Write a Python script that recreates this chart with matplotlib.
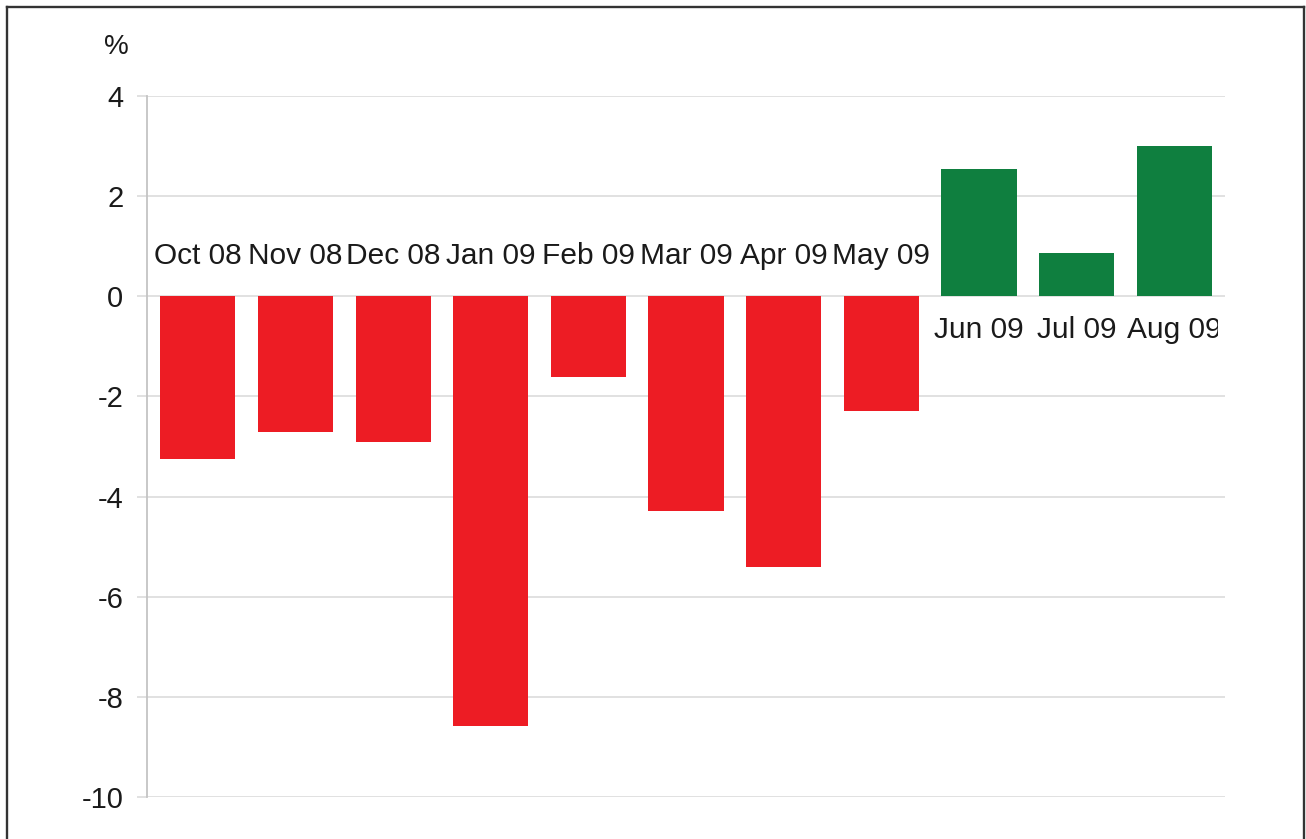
import matplotlib
matplotlib.use("Agg")
import matplotlib.pyplot as plt
from matplotlib.lines import Line2D
from matplotlib.patches import Rectangle

# ── Data ──
months = ["Oct 08", "Nov 08", "Dec 08", "Jan 09", "Feb 09", "Mar 09",
          "Apr 09", "May 09", "Jun 09", "Jul 09", "Aug 09"]
change = [-3.25, -2.72, -2.9, -8.58, -1.62, -4.28, -5.4, -2.3, 2.54, 0.86, 3.0]

RED = "#ed1c24"
GREEN = "#0f7f3f"
GRID = "#dcdcdc"
TXT = "#1a1a1a"

plt.rcParams["font.family"] = ["Liberation Sans", "DejaVu Sans"]

fig = plt.figure(figsize=(13.06, 8.39), dpi=100)
fig.patch.set_facecolor("white")
ax = fig.add_axes([0.1126, 0.05, 0.8254, 0.8356])

x = list(range(len(months)))
colors = [RED if v < 0 else GREEN for v in change]
ax.bar(x, change, width=0.77, color=colors, zorder=3)

ax.set_xlim(-0.52, len(months) - 0.48)
ax.set_ylim(-10, 4)
ax.set_yticks(range(-10, 5, 2))
ax.set_yticklabels([str(v) for v in range(-10, 5, 2)])
ax.set_xticks([])
ax.yaxis.grid(True, color=GRID, lw=1.2, zorder=0)
for s in ["top", "right", "bottom"]:
    ax.spines[s].set_visible(False)
ax.spines["left"].set_color("#c4c4c4")
ax.spines["left"].set_linewidth(1.3)
ax.tick_params(axis="y", length=7, color=GRID, width=1.2, labelsize=21,
               labelcolor=TXT, pad=10)

# category labels: above zero for negative bars, below for positive ones
for xi, v, lab in zip(x, change, months):
    off = 29 if v < 0 else -24
    ax.annotate(lab, (xi, 0), xytext=(0, off), textcoords="offset points",
                ha="center", va="center", fontsize=21.5, color=TXT,
                annotation_clip=False)

# the last label is cut off at the plot's right edge in the original
fig.add_artist(Rectangle((1218 / 1306, 1 - 360 / 839), 80 / 1306, 62 / 839,
                         transform=fig.transFigure, facecolor="white",
                         edgecolor="none", zorder=5))

fig.text(116 / 1306, 1 - 47 / 839, "%", ha="center", va="center",
         fontsize=20, color=TXT)

# outer frame (left, top, right)
fc = "#333333"
fx0, fx1, fy1 = 6.5 / 1306, 1303.5 / 1306, 1 - 7 / 839
for xs, ys in [([fx0, fx0], [0, fy1]), ([fx0, fx1], [fy1, fy1]), ([fx1, fx1], [0, fy1])]:
    fig.add_artist(Line2D(xs, ys, transform=fig.transFigure, color=fc, lw=1.7, zorder=6))

fig.savefig("out.png", dpi=100, facecolor="white")
plt.close(fig)
